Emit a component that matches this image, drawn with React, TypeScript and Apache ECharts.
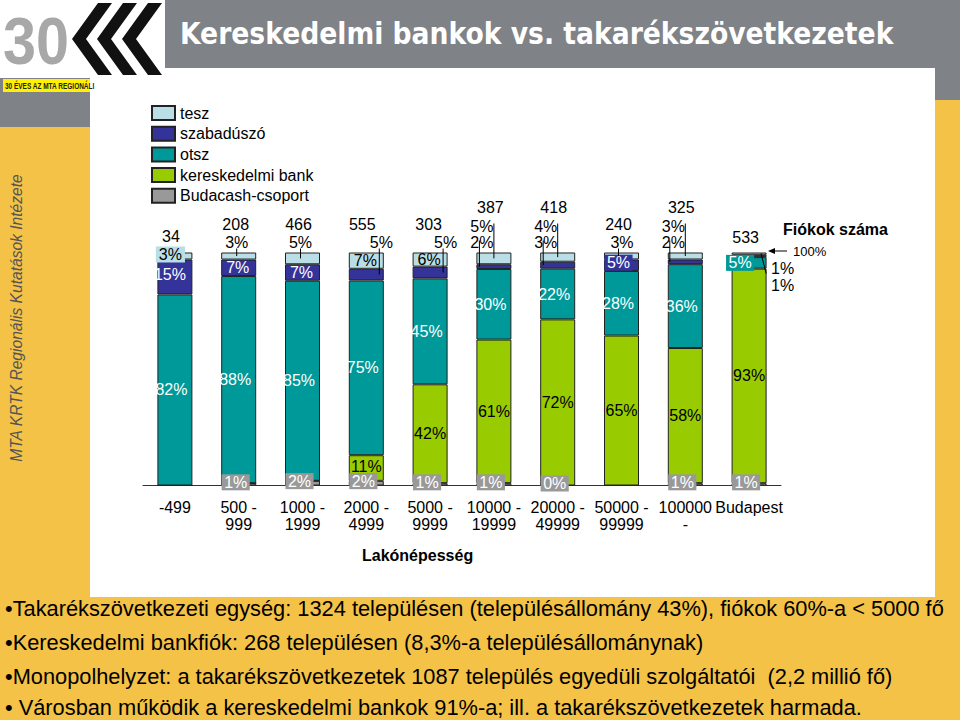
import React, { useEffect, useRef } from 'react';
import * as echarts from 'echarts';

// ---------- data ----------
const categories = ['-499', '500 -\n999', '1000 -\n1999', '2000 -\n4999', '5000 -\n9999', '10000 -\n19999', '20000 -\n49999', '50000 -\n99999', '100000\n-', 'Budapest'];
const branchCounts = [34, 208, 466, 555, 303, 387, 418, 240, 325, 533];
const tesz = [3, 3, 5, 7, 6, 5, 4, 3, 3, 1];
const szabaduszo = [15, 7, 7, 5, 5, 2, 3, 5, 2, 1];
const otsz = [82, 88, 85, 75, 45, 30, 22, 28, 36, 5];
const kereskedelmiBank = [0, 0, 0, 11, 42, 61, 72, 65, 58, 93];
const budacash = [0, 1, 2, 2, 1, 1, 0, 0, 1, 1];
const seriesNames = ['tesz', 'szabadúszó', 'otsz', 'kereskedelmi bank', 'Budacash-csoport'];
const titleText = 'Kereskedelmi bankok vs. takarékszövetkezetek';
const sideText = 'MTA KRTK Regionális Kutatások Intézete';
const axisTitle = 'Lakónépesség';
const noteTitle = 'Fiókok száma';
const noteArrow = '100%';
const bullets = [
  '•Takarékszövetkezeti egység: 1324 településen (településállomány 43%), fiókok 60%-a < 5000 fő',
  '•Kereskedelmi bankfiók: 268 településen (8,3%-a településállománynak)',
  '•Monopolhelyzet: a takarékszövetkezetek 1087 település egyedüli szolgáltatói  (2,2 millió fő)',
  '• Városban működik a kereskedelmi bankok 91%-a; ill. a takarékszövetkezetek harmada.',
];

// ---------- styles ----------
const FONT = '"Liberation Sans", Arial, sans-serif';
const FS = 16;
const C = { tesz: '#B9DEE6', szaba: '#333399', otsz: '#009999', bank: '#99CC00', buda: '#999999' };
const ORANGE = '#F4C246';
const HEADER = '#7F8286';
const budaLabelShown = [false, true, true, true, true, true, true, false, true, true];
const teszInside = [0, 3, 4];
const szabaInside = [0, 1, 2, 7];
const countOffsets = [[-4, -16], [-3, -28.5], [-4, -28.5], [-4, -28.5], [-1.5, -28.5], [-3.5, -45], [-4, -45], [-3, -28.5], [-4, -45], [-3.5, -15.5]];
const bulletY = [608, 642, 676, 707];

type LeaderSpec = { key: 'tesz' | 'szaba'; i: number; dx: number; dy: number; lx?: number; ly?: number; ex?: number; ey?: number };
const leaderSpecs: LeaderSpec[] = [
  { key: 'tesz', i: 1, dx: -2, dy: -10.5, lx: -2, ly: -4 },
  { key: 'tesz', i: 2, dx: -2, dy: -10.5, lx: -2, ly: -4 },
  { key: 'szaba', i: 3, dx: 15, dy: -10, lx: 13, ly: -4 },
  { key: 'szaba', i: 4, dx: 15.5, dy: -10, lx: 13, ly: -4 },
  { key: 'tesz', i: 5, dx: -12, dy: -26, lx: 0, ly: -29 },
  { key: 'szaba', i: 5, dx: -12, dy: -10, lx: -14.5, ly: -12 },
  { key: 'tesz', i: 6, dx: -12, dy: -26, lx: 0, ly: -29 },
  { key: 'szaba', i: 6, dx: -12, dy: -10, lx: -14.5, ly: -12 },
  { key: 'tesz', i: 7, dx: 0.5, dy: -10, lx: -3, ly: -4 },
  { key: 'tesz', i: 8, dx: -12, dy: -26, lx: 0, ly: -29 },
  { key: 'szaba', i: 8, dx: -12, dy: -10, lx: -15.5, ly: -12 },
  { key: 'tesz', i: 9, dx: 33.5, dy: 15.5, lx: 12, ly: 1, ex: 17, ey: 21 },
  { key: 'szaba', i: 9, dx: 33.5, dy: 32.5 },
];

// ---------- derived (100% stacked) ----------
const bottomUp = [budacash, kereskedelmiBank, otsz, szabaduszo, tesz];
const totals = categories.map((_, i) => bottomUp.reduce((s, a) => s + a[i], 0));
const norm = (a: number[]) => a.map((v, i) => (v / totals[i]) * 100);
function segMid(key: 'tesz' | 'szaba', i: number) {
  const idx = key === 'tesz' ? 4 : 3;
  let lo = 0;
  for (let k = 0; k < idx; k++) lo += (bottomUp[k][i] / totals[i]) * 100;
  return lo + ((bottomUp[idx][i] / totals[i]) * 100) / 2;
}

const labelBase = { show: true, fontSize: FS, fontFamily: FONT, position: 'inside' };

function bar(name: string, values: number[], color: string, itemLabel: (i: number) => any) {
  return {
    name,
    type: 'bar',
    stack: 'total',
    barWidth: 35,
    itemStyle: { color, borderColor: '#222', borderWidth: 1 },
    label: { ...labelBase, formatter: (p: any) => values[p.dataIndex] + '%' },
    data: norm(values).map((v, i) => ({ value: v, label: itemLabel(i) })),
  };
}

const textStyle = (t: string) => ({
  text: t, fill: '#000', fontSize: FS, fontFamily: FONT,
  textAlign: 'center', textVerticalAlign: 'middle', align: 'center', verticalAlign: 'middle',
});

function buildOption() {
  const series: any[] = [
    bar('Budacash-csoport', budacash, C.buda, (i) => ({
      show: budaLabelShown[i], color: '#fff', backgroundColor: C.buda, padding: [0, 2.5, 0, 2.5], offset: [-3, -2],
    })),
    bar('kereskedelmi bank', kereskedelmiBank, C.bank, (i) => ({ show: kereskedelmiBank[i] > 0, color: '#000', offset: i === 3 ? [0, -2] : [0, 0] })),
    bar('otsz', otsz, C.otsz, (i) => (i === 9
      ? { color: '#fff', backgroundColor: C.otsz, padding: [0, 2.5, 0, 2.5], offset: [-9, 0] }
      : { color: '#fff', offset: [-3.5, 0] })),
    bar('szabadúszó', szabaduszo, C.szaba, (i) => (szabaInside.includes(i)
      ? (i === 7
        ? { color: '#fff', backgroundColor: C.szaba, padding: [0, 2.5, 0, 2.5], offset: [-3, -2.5] }
        : { color: '#fff', offset: [i === 0 ? -5 : -1, i === 0 ? -2 : 0] })
      : { show: false })),
    bar('tesz', tesz, C.tesz, (i) => (teszInside.includes(i)
      ? (i === 0
        ? { color: '#000', backgroundColor: C.tesz, padding: [0, 3, 0, 3], offset: [-4.5, -1.5] }
        : { color: '#000', offset: [-1, 0] })
      : { show: false })),
    {
      name: 'counts', type: 'custom', silent: true, clip: false, z: 6,
      data: branchCounts.map((c, i) => [i, 100, c]),
      renderItem: (params: any, api: any) => {
        const p = api.coord([api.value(0), 100]);
        const o = countOffsets[params.dataIndex];
        return { type: 'text', x: p[0] + o[0], y: p[1] + o[1], style: textStyle(String(api.value(2))) };
      },
    },
    {
      name: 'leaders', type: 'custom', silent: true, clip: false, z: 6,
      data: leaderSpecs.map((s) => [s.i, segMid(s.key, s.i), (s.key === 'tesz' ? tesz : szabaduszo)[s.i]]),
      renderItem: (params: any, api: any) => {
        const s = leaderSpecs[params.dataIndex];
        const top = api.coord([api.value(0), 100]);
        const mid = api.coord([api.value(0), api.value(1)]);
        const cx = top[0];
        const ty = top[1];
        const children: any[] = [];
        if (s.lx !== undefined && s.ly !== undefined) {
          const x1 = cx + s.lx;
          const y1 = ty + s.ly;
          const x2 = s.ex !== undefined ? cx + s.ex : x1;
          const y2 = s.ey !== undefined ? ty + s.ey : mid[1];
          children.push({ type: 'line', shape: { x1, y1, x2, y2 }, style: { stroke: '#000', lineWidth: 1 } });
        }
        children.push({ type: 'text', x: cx + s.dx, y: ty + s.dy, style: textStyle(api.value(2) + '%') });
        return { type: 'group', children };
      },
    },
  ];

  const chevron = (x0: number) => ({
    type: 'polygon', z: -1,
    shape: { points: [[x0 + 26, 3], [x0 + 40, 3], [x0 + 14, 39], [x0 + 40, 75], [x0 + 26, 75], [x0, 39]] },
    style: { fill: '#111' },
  });

  const graphic: any[] = [
    // slide background pieces
    { type: 'rect', z: -1, shape: { x: 0, y: 0, width: 960, height: 68 }, style: { fill: HEADER } },
    { type: 'rect', z: -1, shape: { x: 0, y: 0, width: 90, height: 127 }, style: { fill: HEADER } },
    { type: 'rect', z: -1, shape: { x: 935, y: 0, width: 25, height: 100 }, style: { fill: HEADER } },
    { type: 'rect', z: -1, shape: { x: 90, y: 68, width: 845, height: 529 }, style: { fill: '#fff' } },
    { type: 'rect', z: -1, shape: { x: 0, y: 0, width: 165, height: 78 }, style: { fill: '#fff' } },
    {
      type: 'text', z: -1, x: 3, y: 41, scaleX: 0.9,
      style: { text: '30', fill: '#A8A8A8', font: 'bold 66px "Liberation Sans"', textAlign: 'left', textVerticalAlign: 'middle' },
    },
    chevron(72), chevron(97), chevron(122),
    { type: 'rect', z: -1, shape: { x: 3, y: 79, width: 87, height: 13 }, style: { fill: '#FFF100' } },
    {
      type: 'text', z: -1, x: 5, y: 86, scaleX: 0.72,
      style: { text: '30 ÉVES AZ MTA REGIONÁLI', fill: '#222', font: 'bold 9px "Liberation Sans"', textAlign: 'left', textVerticalAlign: 'middle' },
    },
    {
      type: 'text', z: 1, x: 180, y: 34,
      style: { text: titleText, fill: '#fff', font: 'bold 29.6px "DejaVu Sans Condensed", "DejaVu Sans"', textAlign: 'left', textVerticalAlign: 'middle' },
    },
    {
      type: 'text', z: 1, x: 16, y: 318, rotation: Math.PI / 2,
      style: { text: sideText, fill: '#555', font: 'italic 15.6px "Liberation Sans"', textAlign: 'center', textVerticalAlign: 'middle' },
    },
    // annotations
    {
      type: 'text', z: 10, x: 362, y: 555,
      style: { text: axisTitle, fill: '#000', font: 'bold 16px "Liberation Sans"', textAlign: 'left', textVerticalAlign: 'middle' },
    },
    {
      type: 'text', z: 10, x: 783, y: 229,
      style: { text: noteTitle, fill: '#000', font: 'bold 16px "Liberation Sans"', textAlign: 'left', textVerticalAlign: 'middle' },
    },
    { type: 'line', z: 10, shape: { x1: 771, y1: 251, x2: 787, y2: 251 }, style: { stroke: '#000', lineWidth: 1 } },
    { type: 'polygon', z: 10, shape: { points: [[768, 251], [775, 248], [775, 254]] }, style: { fill: '#000' } },
    {
      type: 'text', z: 10, x: 793, y: 251,
      style: { text: noteArrow, fill: '#000', font: '13px "Liberation Sans"', textAlign: 'left', textVerticalAlign: 'middle' },
    },
    ...bullets.map((b, k) => ({
      type: 'text', z: 10, x: 5, y: bulletY[k],
      style: { text: b, fill: '#000', font: '21.8px "Liberation Sans"', textAlign: 'left', textVerticalAlign: 'middle' },
    })),
  ];

  return {
    animation: false,
    backgroundColor: ORANGE,
    textStyle: { fontFamily: FONT },
    legend: {
      data: seriesNames,
      orient: 'vertical',
      left: 151,
      top: 105,
      padding: 0,
      itemWidth: 23,
      itemHeight: 14,
      itemGap: 4.7,
      icon: 'rect',
      textStyle: { fontSize: FS, color: '#000', fontFamily: FONT },
      selectedMode: false,
    },
    grid: { left: 143, right: 179, top: 252.5, bottom: 234.5 },
    xAxis: {
      type: 'category',
      data: categories,
      axisLine: { lineStyle: { color: '#333', width: 1 } },
      axisTick: { show: false },
      axisLabel: { fontSize: FS, color: '#000', lineHeight: 17, margin: 13, fontFamily: FONT, interval: 0 },
    },
    yAxis: { type: 'value', min: 0, max: 100, show: false },
    graphic,
    series,
  };
}

export default function App() {
  const ref = useRef<HTMLDivElement>(null);
  useEffect(() => {
    const chart = echarts.init(ref.current!, null, { renderer: 'svg' });
    chart.setOption(buildOption() as any);
    return () => chart.dispose();
  }, []);
  return <div ref={ref} style={{ position: 'fixed', left: 0, top: 0, width: 960, height: 720 }} />;
}
